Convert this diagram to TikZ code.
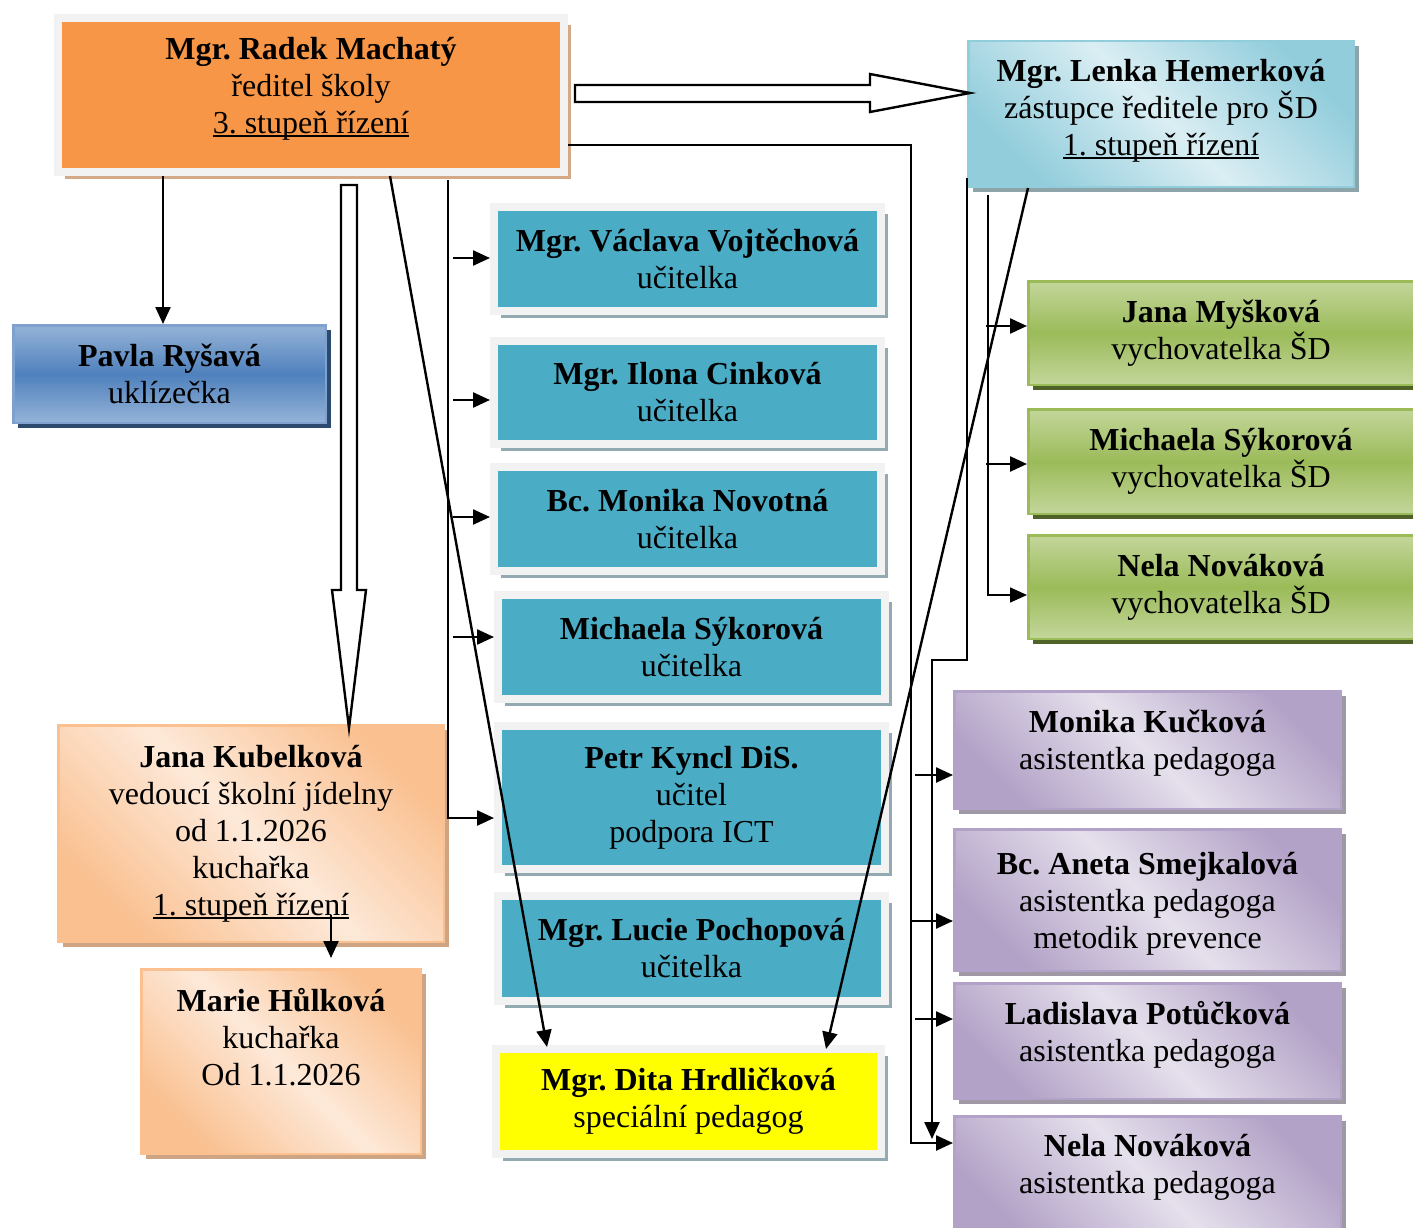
\documentclass[tikz,border=0pt]{standalone}
\usepackage{fontspec}
\setmainfont{Liberation Serif}
\usetikzlibrary{positioning,calc,shadows,arrows.meta}
\frenchspacing

\definecolor{framegray}{HTML}{F2F2F2}
\definecolor{orangeF}{HTML}{F79646}
\definecolor{tanSh}{HTML}{D3A988}
\definecolor{tealF}{HTML}{4BACC6}
\definecolor{tealSh}{HTML}{93AAB3}
\definecolor{yellowF}{HTML}{FFFF00}
\definecolor{blueL}{HTML}{95B3D7}
\definecolor{blueD}{HTML}{4F81BD}
\definecolor{blueBd}{HTML}{7EA1D0}
\definecolor{blueSh}{HTML}{2C4A6E}
\definecolor{greenL}{HTML}{C3D69B}
\definecolor{greenD}{HTML}{9BBB59}
\definecolor{greenSh}{HTML}{4F6228}
\definecolor{purpleL}{HTML}{E5E0EC}
\definecolor{purpleD}{HTML}{B3A2C7}
\definecolor{purpleSh}{HTML}{9E99A5}
\definecolor{peachL}{HTML}{FDE9D9}
\definecolor{peachD}{HTML}{FAC090}
\definecolor{peachSh}{HTML}{CDA585}
\definecolor{lblueL}{HTML}{DAEEF3}
\definecolor{lblueD}{HTML}{92CDDC}
\definecolor{lblueSh}{HTML}{8EA4AB}

\newcommand{\podtrh}[1]{\leavevmode\vtop{\hbox{#1}\kern-5.4pt\hrule height 2pt}}

\begin{document}
\begin{tikzpicture}[x=1pt, y=-1pt]
% STYLES
\tikzset{%
    box/.style={%
rectangle,
inner sep=0pt,
align=center,
font=\fontsize{32}{37}\selectfont
                },
    headbox/.style={box, draw=framegray, line width=8pt, fill=orangeF,
        drop shadow={shadow xshift=7pt, shadow yshift=-7pt, fill=tanSh, opacity=1}},
    teachbox/.style={box, draw=framegray, line width=8pt, fill=tealF,
        minimum width=387pt, minimum height=104pt,
        drop shadow={shadow xshift=7pt, shadow yshift=-7pt, fill=tealSh, opacity=1}},
    deputybox/.style={box, draw=lblueD, line width=2.5pt,
        top color=lblueD, bottom color=lblueD, middle color=lblueL, shading angle=-45,
        drop shadow={shadow xshift=5pt, shadow yshift=-5pt, fill=lblueSh, opacity=1}},
    cleanbox/.style={box, draw=blueBd, line width=2.5pt,
        top color=blueL, bottom color=blueL, middle color=blueD,
        drop shadow={shadow xshift=5pt, shadow yshift=-5pt, fill=blueSh, opacity=1}},
    kitchenbox/.style={box, draw=peachD, line width=2.5pt,
        top color=peachD, bottom color=peachD, middle color=peachL, shading angle=-45,
        drop shadow={shadow xshift=5pt, shadow yshift=-5pt, fill=peachSh, opacity=1}},
    educbox/.style={box, draw=greenD, line width=2.5pt,
        top color=greenL, bottom color=greenL, middle color=greenD,
        minimum width=385.5pt,
        drop shadow={shadow xshift=5pt, shadow yshift=-5pt, fill=greenSh, opacity=1}},
    assistbox/.style={box, draw=purpleD, line width=2.5pt,
        top color=purpleD, bottom color=purpleD, middle color=purpleL, shading angle=-45,
        minimum width=386.5pt,
        drop shadow={shadow xshift=5pt, shadow yshift=-5pt, fill=purpleSh, opacity=1}},
    arr/.style={-{Triangle[length=17pt,width=15pt]}, line width=2.4pt},
    hollow/.style={draw, line width=2.4pt, fill=white, line join=miter}
             }
\useasboundingbox (0,0) rectangle (1413,1228);

% Draw management
\node [headbox, minimum width=506pt, minimum height=154pt, text depth=20pt] (dir) at (311,95)
    {\textbf{Mgr. Radek Machatý}\\ ředitel školy\\ \podtrh{3. stupeň řízení}};
\node [deputybox, minimum width=385.5pt, minimum height=145.5pt, text depth=13pt] (hem) at (1161,114)
    {\textbf{Mgr. Lenka Hemerková}\\ zástupce ředitele pro ŠD\\ \podtrh{1. stupeň řízení}};
\node [cleanbox, minimum width=312.5pt, minimum height=97.5pt] (rysa) at (169.5,374)
    {\textbf{Pavla Ryšavá}\\ uklízečka};

% Draw teachers
\node [teachbox] (vojt) at (687.5,259) {\textbf{Mgr. Václava Vojtěchová}\\ učitelka};
\node [teachbox, minimum height=103pt] (cink) at (687.5,392.5) {\textbf{Mgr. Ilona Cinková}\\ učitelka};
\node [teachbox] (novot) at (687.5,519) {\textbf{Bc. Monika Novotná}\\ učitelka};
\node [teachbox] (sykT) at (691.5,647) {\textbf{Michaela Sýkorová}\\ učitelka};
\node [teachbox, minimum height=143pt] (kyncl) at (691.5,797.5) {\textbf{Petr Kyncl DiS.}\\ učitel\\ podpora ICT};
\node [teachbox, minimum height=105pt] (poch) at (691.5,948.5) {\textbf{Mgr. Lucie Pochopová}\\ učitelka};
\node [teachbox, fill=yellowF, minimum width=385pt, minimum height=105pt] (hrdl) at (688.5,1101.5)
    {\textbf{Mgr. Dita Hrdličková}\\ speciální pedagog};

% Draw kitchen
\node [kitchenbox, minimum width=385.5pt, minimum height=216.5pt, text depth=7pt] (kube) at (251,833.5)
    {\textbf{Jana Kubelková}\\ vedoucí školní jídelny\\ od 1.1.2026\\ kuchařka\\ \podtrh{1. stupeň řízení}};
\node [kitchenbox, minimum width=279.5pt, minimum height=184.5pt, text depth=49pt] (hulk) at (281,1061.5)
    {\textbf{Marie Hůlková}\\ kuchařka\\ Od 1.1.2026};

% Draw after-school club
\node [educbox, minimum height=103.5pt] (mysk) at (1221,333) {\textbf{Jana Myšková}\\ vychovatelka ŠD};
\node [educbox, minimum height=104.5pt] (sykV) at (1221,461.5) {\textbf{Michaela Sýkorová}\\ vychovatelka ŠD};
\node [educbox, minimum height=103.5pt] (novV) at (1221,587) {\textbf{Nela Nováková}\\ vychovatelka ŠD};

% Draw assistants
\node [assistbox, minimum height=117.5pt, text depth=21pt] (kuck) at (1147.5,750)
    {\textbf{Monika Kučková}\\ asistentka pedagoga};
\node [assistbox, minimum height=141.5pt, text depth=0pt] (smej) at (1147.5,900)
    {\textbf{Bc. Aneta Smejkalová}\\ asistentka pedagoga\\ metodik prevence};
\node [assistbox, minimum height=115.5pt, text depth=19pt] (potu) at (1147.5,1041)
    {\textbf{Ladislava Potůčková}\\ asistentka pedagoga};
\node [assistbox, minimum height=122.5pt, text depth=28pt] (novA) at (1147.5,1177.5)
    {\textbf{Nela Nováková}\\ asistentka pedagoga};

% Draw the block arrows
\coordinate (hA) at ($(dir.east)+(7,-1.5)$);
\coordinate (hB) at ($(hem.west)+(3,-21)$);
\draw[hollow] (hA) -- ++(0,-8.5) -- ++(295,0) -- ++(0,-11) -- (hB) -- ++(-100,19)
    -- ++(0,-10) -- ++(-295,0) -- cycle;
\coordinate (vA) at ($(dir.south west)+(295,9)$);
\coordinate (vB) at ($(kube.north west)+(292,4)$);
\draw[hollow] (vA) -- ++(-8,0) -- ++(0,405) -- ++(-9,0) -- (vB) -- ++(17,-138)
    -- ++(-9,0) -- ++(0,-405) -- cycle;

% Draw the links
\draw[arr] ($(dir.south west)+(109,0)$) -- ($(rysa.north west)+(151,0)$);
\coordinate (tbus) at ($(dir.south west)+(394,4)$);
\draw[arr] (tbus) |- ($(kyncl.west)+(0,20.5)$);
\foreach \t/\dy in {vojt/-1, cink/7.5, novot/-2, sykT/-10}
    \draw[arr] ($(tbus |- \t.west)+(5,\dy)$) -- ($(\t.west)+(0,\dy)$);

\coordinate (pbus) at ($(dir.south east)+(0,-31)$);
\coordinate (pcorner) at ($(pbus)+(343,0)$);
\draw[arr] (pbus) -- (pcorner) |- ($(novA.west)+(0,-34.5)$);
\foreach \p/\dy/\dx in {kuck/25/4, smej/21/0, potu/-22/4}
    \draw[arr] ($(pcorner |- \p.west)+(\dx,\dy)$) -- ($(\p.west)+(0,\dy)$);

\coordinate (hbus) at ($(hem.south west)+(0,-10)$);
\draw[arr] (hbus) -- ++(0,482) -- ++(-35,0) -- ++(0,479);

\coordinate (gbus) at ($(hem.south west)+(21,7)$);
\draw[arr, line width=1.6pt] (gbus) |- ($(novV.west)+(0,8)$);
\foreach \g/\dy in {mysk/-7, sykV/2.5}
    \draw[arr] ($(gbus |- \g.west)+(-2,\dy)$) -- ($(\g.west)+(0,\dy)$);

\draw[arr] ($(dir.south west)+(336,0)$) -- ($(hrdl.north west)+(55,2)$);
\draw[arr] ($(hem.south west)+(61,0)$) -- ($(hrdl.north west)+(334,4)$);
\draw[arr] ($(kube.south west)+(274,-28)$) -- ($(hulk.north west)+(191,-10)$);
\end{tikzpicture}
\end{document}
